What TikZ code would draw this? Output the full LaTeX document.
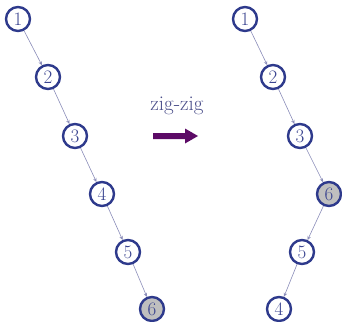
\documentclass[tikz,border=0pt]{standalone}
\usepackage{fontspec}
\usetikzlibrary{arrows.meta}
\definecolor{ringblue}{HTML}{2E3A8C}
\definecolor{numblue}{HTML}{3A4490}
\definecolor{edgec}{HTML}{8A8CB8}
\definecolor{purp}{HTML}{5C0A66}
\definecolor{labc}{HTML}{4A4E8A}
\tikzset{
  tn/.style={circle, draw=ringblue, line width=2.4pt, minimum size=24pt, inner sep=0pt, fill=white, text=numblue, font=\fontsize{19}{19}\selectfont},
  hl/.style={tn, fill=black!25},
  ed/.style={draw=edgec, line width=0.6pt, -{Stealth[length=4pt,width=3.5pt]}}
}
\begin{document}
\begin{tikzpicture}[x=1pt,y=-1pt]
\useasboundingbox (0,0) rectangle (342,321);
% left tree
\node[tn] (a1) at (18,19) {1};
\node[tn] (a2) at (48,77) {2};
\node[tn] (a3) at (75,136) {3};
\node[tn] (a4) at (102,194) {4};
\node[tn] (a5) at (128,252) {5};
\node[hl] (a6) at (152,309) {6};
\draw[ed] (a1) -- (a2);
\draw[ed] (a2) -- (a3);
\draw[ed] (a3) -- (a4);
\draw[ed] (a4) -- (a5);
\draw[ed] (a5) -- (a6);
% right tree
\node[tn] (b1) at (245,19) {1};
\node[tn] (b2) at (273,77) {2};
\node[tn] (b3) at (300,136) {3};
\node[hl] (b6) at (329,194) {6};
\node[tn] (b5) at (302,252) {5};
\node[tn] (b4) at (279,309) {4};
\draw[ed] (b1) -- (b2);
\draw[ed] (b2) -- (b3);
\draw[ed] (b3) -- (b6);
\draw[ed] (b6) -- (b5);
\draw[ed] (b5) -- (b4);
% label and arrow
\node[text=labc, font=\fontsize{21}{21}\selectfont] (lab) at (177,106) {zig-zig};
\fill[purp] (153,133) -- (185,133) -- (185,128.5) -- (198,136) -- (185,143.5) -- (185,139) -- (153,139) -- cycle;
\end{tikzpicture}
\end{document}
